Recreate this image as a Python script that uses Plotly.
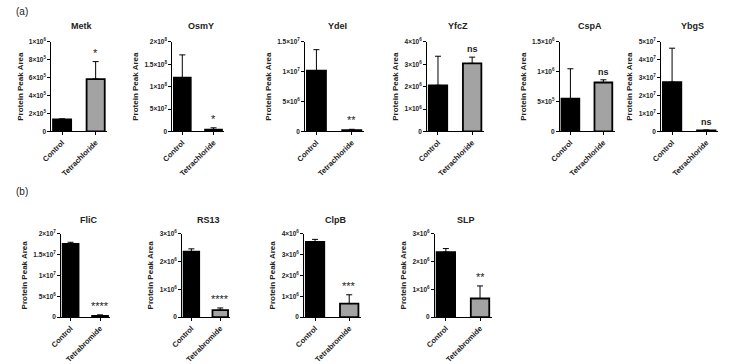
import plotly.graph_objects as go

W, H = 730, 364

# ---------------- data ----------------
proteins = ["Metk", "OsmY", "YdeI", "YfcZ", "CspA", "YbgS", "FliC", "RS13", "ClpB", "SLP"]
treat_names = ["Tetrachloride"] * 6 + ["Tetrabromide"] * 4
control_vals = [1.35e5, 1.20e8, 1.02e7, 2.06e6, 5.5e5, 2.75e7, 1.75e7, 2.35e6, 3.60e6, 2.33e6]
control_err = [0.05e5, 0.51e8, 0.35e7, 1.30e6, 5.0e5, 1.90e7, 0.04e7, 0.10e6, 0.12e6, 0.13e6]
treat_vals = [5.85e5, 4.0e6, 2.0e5, 3.04e6, 8.2e5, 5.0e5, 3.0e5, 0.25e6, 0.65e6, 0.67e6]
treat_err = [1.95e5, 4.0e6, 1.5e5, 0.28e6, 0.45e5, 3.0e5, 2.5e5, 0.08e6, 0.42e6, 0.45e6]
sig_labels = ["*", "*", "**", "ns", "ns", "ns", "****", "****", "***", "**"]

tick_vals = [
    [0, 2e5, 4e5, 6e5, 8e5, 1e6],
    [0, 5e7, 1e8, 1.5e8, 2e8],
    [0, 5e6, 1e7, 1.5e7],
    [0, 1e6, 2e6, 3e6, 4e6],
    [0, 5e5, 1e6, 1.5e6],
    [0, 1e7, 2e7, 3e7, 4e7, 5e7],
    [0, 5e6, 1e7, 1.5e7, 2e7],
    [0, 1e6, 2e6, 3e6],
    [0, 1e6, 2e6, 3e6, 4e6],
    [0, 1e6, 2e6, 3e6],
]
tick_text = [
    ["0", "2×10<sup>5</sup>", "4×10<sup>5</sup>", "6×10<sup>5</sup>", "8×10<sup>5</sup>", "1×10<sup>6</sup>"],
    ["0", "5×10<sup>7</sup>", "1×10<sup>8</sup>", "1.5×10<sup>8</sup>", "2×10<sup>8</sup>"],
    ["0", "5×10<sup>6</sup>", "1×10<sup>7</sup>", "1.5×10<sup>7</sup>"],
    ["0", "1×10<sup>6</sup>", "2×10<sup>6</sup>", "3×10<sup>6</sup>", "4×10<sup>6</sup>"],
    ["0", "5×10<sup>5</sup>", "1×10<sup>6</sup>", "1.5×10<sup>6</sup>"],
    ["0", "1×10<sup>7</sup>", "2×10<sup>7</sup>", "3×10<sup>7</sup>", "4×10<sup>7</sup>", "5×10<sup>7</sup>"],
    ["0", "5×10<sup>6</sup>", "1×10<sup>7</sup>", "1.5×10<sup>7</sup>", "2×10<sup>7</sup>"],
    ["0", "1×10<sup>6</sup>", "2×10<sup>6</sup>", "3×10<sup>6</sup>"],
    ["0", "1×10<sup>6</sup>", "2×10<sup>6</sup>", "3×10<sup>6</sup>", "4×10<sup>6</sup>"],
    ["0", "1×10<sup>6</sup>", "2×10<sup>6</sup>", "3×10<sup>6</sup>"],
]

# ---------------- layout geometry (pixels) ----------------
x_px = [(40, 97), (163, 216), (298, 358), (422, 480), (557, 613), (660, 718),
        (50, 100), (173, 222), (297, 355), (430, 488)]
row_y = {0: (39, 131), 1: (236, 322)}
title_y = {0: 23, 1: 222}

FONT = "Liberation Sans, Arial, sans-serif"
fig = go.Figure()
layout = dict(
    width=W, height=H, margin=dict(l=0, r=0, t=0, b=0),
    paper_bgcolor="white", plot_bgcolor="white", showlegend=False,
    font=dict(family=FONT, color="black"),
)
annotations = []

for i, name in enumerate(proteins):
    row = 0 if i < 6 else 1
    ax = "" if i == 0 else str(i + 1)
    xa, ya = "x" + ax, "y" + ax
    cats = ["Control", treat_names[i]]
    fig.add_trace(go.Bar(
        x=cats, y=[control_vals[i], treat_vals[i]],
        xaxis=xa, yaxis=ya, width=0.54,
        marker=dict(color=["#000000", "#a3a3a3"], line=dict(color="black", width=1.8)),
        error_y=dict(type="data", array=[control_err[i], treat_err[i]], arrayminus=[0, 0],
                     symmetric=False, color="black", thickness=1, width=3),
    ))
    x0, x1 = x_px[i]
    yt, yb = row_y[row]
    layout["xaxis" + ax] = dict(
        domain=[x0 / W, x1 / W], anchor=ya, type="category", range=[-0.32, 1.35],
        showline=True, linecolor="black", linewidth=1, ticks="outside", ticklen=3,
        tickcolor="black", tickangle=-45, showgrid=False, zeroline=False,
        tickfont=dict(size=7.5, family=FONT, color="#222222"), tickvals=cats,
        ticktext=["<b>" + c + "</b>" for c in cats], fixedrange=True,
    )
    top = tick_vals[i][-1]
    layout["yaxis" + ax] = dict(
        domain=[1 - yb / H, 1 - yt / H], anchor=xa, range=[0, top],
        showline=True, linecolor="black", linewidth=1, ticks="outside", ticklen=3,
        tickcolor="black", showgrid=False, zeroline=False,
        tickvals=tick_vals[i], ticktext=["<b>" + t + "</b>" for t in tick_text[i]],
        tickfont=dict(size=6.5, family=FONT, color="#222222"),
        title=dict(text="<b>Protein Peak Area</b>", font=dict(size=8, family=FONT, color="#222222"),
                   standoff=4),
        fixedrange=True,
    )
    annotations.append(dict(
        text="<b>" + name + "</b>", xref=xa + " domain", x=0.55, yref="paper",
        y=1 - title_y[row] / H, showarrow=False,
        font=dict(size=9, family=FONT, color="#222222"),
        xanchor="center", yanchor="middle",
    ))
    is_ns = sig_labels[i] == "ns"
    annotations.append(dict(
        text="<b>ns</b>" if is_ns else sig_labels[i],
        xref=xa, x=1, yref=ya, y=treat_vals[i] + treat_err[i],
        showarrow=False, yanchor="bottom", yshift=1,
        font=dict(size=9 if is_ns else 11, family=FONT, color="#222222"),
    ))

annotations.append(dict(text="(a)", xref="paper", yref="paper", x=2 / W, y=1 - 8 / H,
                        showarrow=False, xanchor="left", yanchor="middle",
                        font=dict(size=10, family=FONT, color="#222222")))
annotations.append(dict(text="(b)", xref="paper", yref="paper", x=2 / W, y=1 - 193 / H,
                        showarrow=False, xanchor="left", yanchor="middle",
                        font=dict(size=10, family=FONT, color="#222222")))
layout["annotations"] = annotations
fig.update_layout(**layout)
fig.write_html("out.html")
